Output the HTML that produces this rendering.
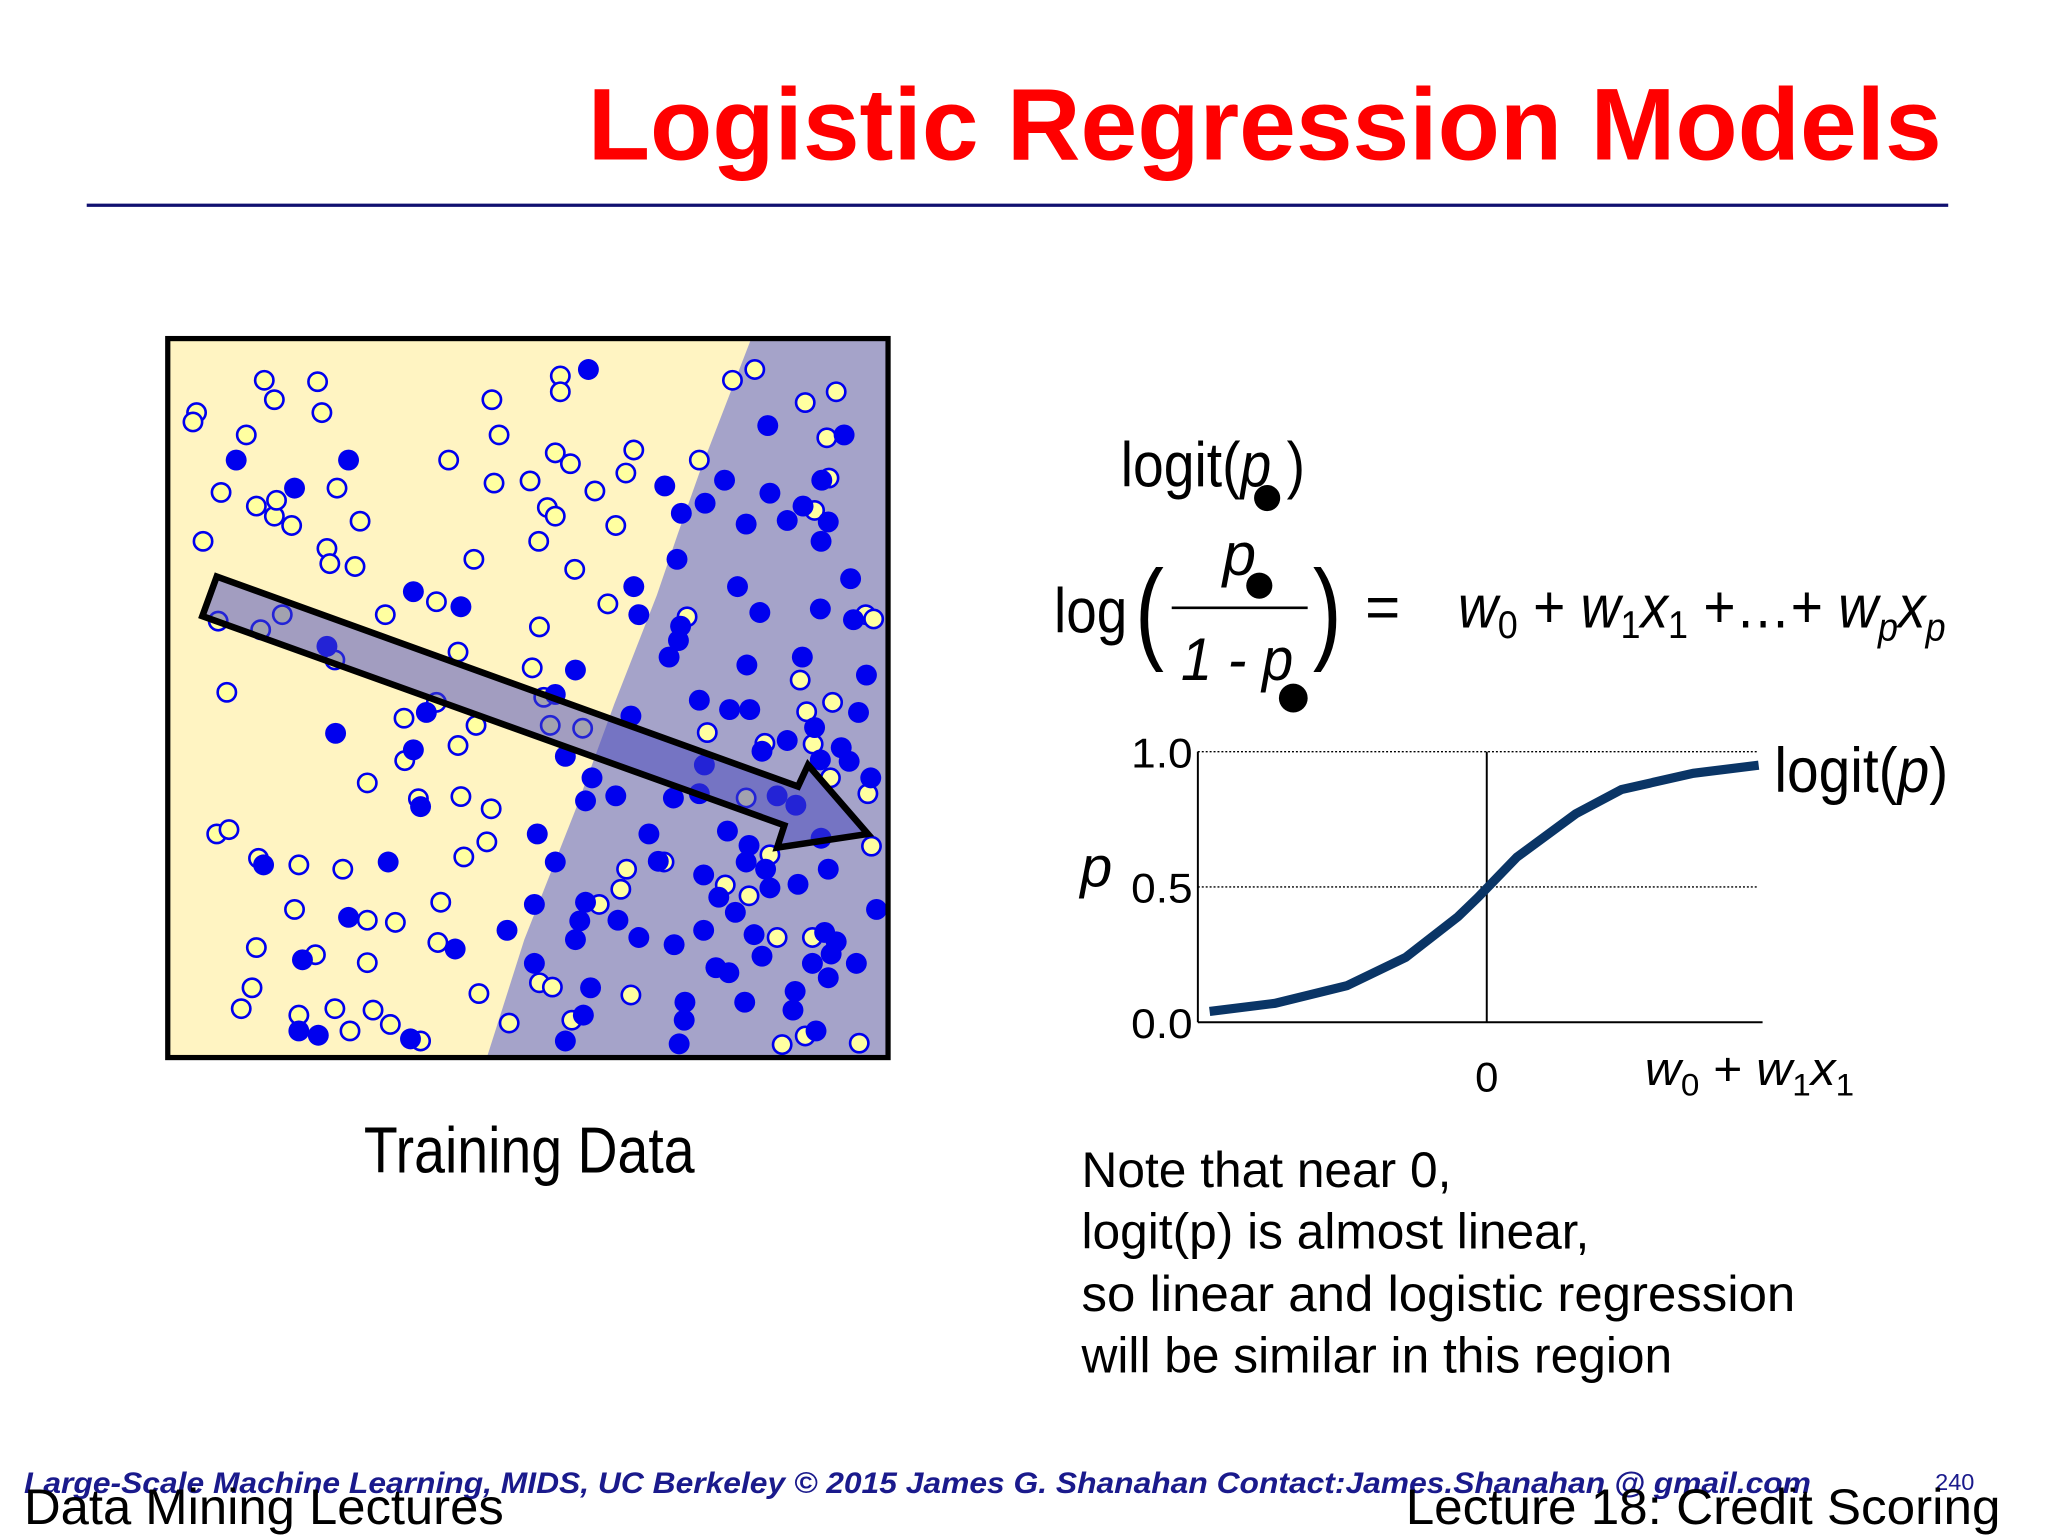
<!DOCTYPE html>
<html><head><meta charset="utf-8"><style>
html,body{margin:0;padding:0;background:#fff;}
svg{display:block;}
text{font-family:"Liberation Sans",sans-serif;}
</style></head><body>
<svg id="s" width="2048" height="1536" viewBox="0 0 1566 1175" xmlns="http://www.w3.org/2000/svg">
<text x="1485" y="122" text-anchor="end" font-size="78" font-weight="bold" fill="#ff0000">Logistic Regression Models</text>
<line x1="66" y1="157" x2="1490" y2="157" stroke="#101070" stroke-width="2.5"/>
<g id="scatter"></g>
<text x="278" y="897" font-size="50" fill="#000" textLength="253" lengthAdjust="spacingAndGlyphs">Training Data</text>
<g>
<text x="857" y="372" font-size="48" fill="#000" textLength="141" lengthAdjust="spacingAndGlyphs">logit(<tspan font-style="italic">p</tspan> )</text>
<text x="806" y="484" font-size="48" fill="#000" textLength="56" lengthAdjust="spacingAndGlyphs">log</text>
<text x="868" y="496" font-size="86" fill="#000" textLength="22" lengthAdjust="spacingAndGlyphs">(</text>
<text x="1004" y="496" font-size="86" fill="#000" textLength="22" lengthAdjust="spacingAndGlyphs">)</text>
<text x="935" y="440" font-size="46" font-style="italic" fill="#000">p</text>
<line x1="896" y1="465" x2="1000" y2="465" stroke="#000" stroke-width="2"/>
<text x="903" y="520" font-size="46" font-style="italic" fill="#000" textLength="86" lengthAdjust="spacingAndGlyphs">1 - p</text>
<circle cx="969" cy="381" r="10" fill="#000"/>
<circle cx="963" cy="448" r="10" fill="#000"/>
<circle cx="989" cy="534" r="11" fill="#000"/>
<text x="1044" y="480" font-size="46" fill="#000">=</text>
<text x="1115" y="480" font-size="46" fill="#000" textLength="373" lengthAdjust="spacingAndGlyphs"><tspan font-style="italic">w</tspan><tspan font-size="30" dy="8">0</tspan><tspan dy="-8"> + </tspan><tspan font-style="italic">w</tspan><tspan font-size="30" dy="8">1</tspan><tspan dy="-8" font-style="italic">x</tspan><tspan font-size="30" dy="8">1</tspan><tspan dy="-8"> +…+ </tspan><tspan font-style="italic">w</tspan><tspan font-size="30" dy="10" font-style="italic">p</tspan><tspan dy="-10" font-style="italic">x</tspan><tspan font-size="30" dy="10" font-style="italic">p</tspan></text>
</g>
<g id="chart"></g>
<g font-size="38" fill="#000">
<text x="827" y="908">Note that near 0,</text>
<text x="827" y="955">logit(p) is almost linear,</text>
<text x="827" y="1003" textLength="546" lengthAdjust="spacingAndGlyphs">so linear and logistic regression</text>
<text x="827" y="1050">will be similar in this region</text>
</g>
<text x="18" y="1142" font-size="22.5" font-weight="bold" font-style="italic" fill="#1a1a8c" textLength="1367" lengthAdjust="spacingAndGlyphs">Large-Scale Machine Learning, MIDS, UC Berkeley ©  2015 James G. Shanahan   Contact:James.Shanahan @ gmail.com</text>
<text x="1480" y="1140" font-size="18" fill="#1a1a8c">240</text>
<text x="18" y="1166" font-size="38" fill="#000" textLength="367" lengthAdjust="spacingAndGlyphs">Data Mining Lectures</text>
<text x="1075" y="1166" font-size="38" fill="#000" textLength="455" lengthAdjust="spacingAndGlyphs">Lecture 18: Credit Scoring</text>
</svg>
<script>
const NS="http://www.w3.org/2000/svg";
const openPts=[[13.4,5.8],[14.8,8.5],[20.8,6],[21.4,10.3],[4,10.3],[3.5,11.6],[10.9,13.4],[7.4,21.4],[12.3,23.3],[14.8,24.7],[15.1,22.5],[17.2,26],[23.5,20.8],[26.7,25.4],[4.9,28.2],[22.1,29.2],[22.5,31.3],[26,31.7],[39,16.9],[45,8.5],[46,13.4],[45.3,20.1],[50.3,19.8],[54.5,5.2],[54.5,7.4],[53.8,15.9],[55.9,17.4],[59.3,21.2],[63.6,18.7],[64.7,15.5],[52.7,23.5],[53.8,24.7],[62.2,26],[51.5,28.2],[42.5,30.7],[56.5,32.1],[61.1,36.9],[73.8,16.9],[78.4,5.8],[81.5,4.3],[88.5,8.9],[92.8,7.4],[91.5,13.8],[91.8,19.4],[89.8,23.9],[37.3,36.6],[30.2,38.4],[7,39.3],[12.9,40.5],[15.9,38.4],[23.2,44.7],[8.2,49.2],[40.3,43.6],[51.6,40.1],[50.6,45.8],[32.8,52.8],[37.3,50.6],[42.8,53.8],[40.3,56.6],[32.9,58.7],[27.7,61.8],[34.8,64],[40.7,63.7],[44.9,65.4],[6.8,68.9],[8.5,68.3],[44.3,70],[41.1,72.1],[12.6,72.3],[18.2,73.2],[24.3,73.8],[17.6,79.4],[27.7,80.9],[31.6,81.2],[37.9,78.4],[37.5,84],[12.3,84.7],[20.5,85.7],[27.7,86.8],[11.7,90.3],[10.2,93.2],[18.2,94.1],[23.2,93.2],[28.5,93.4],[30.9,95.4],[25.3,96.3],[43.2,91.1],[35.1,97.7],[47.4,95.2],[51.6,89.6],[53.4,90.2],[64.3,91.3],[63.7,73.8],[62.9,76.6],[59.9,78.7],[72.1,38.7],[74.9,54.8],[87.8,47.5],[92.3,50.6],[88.7,51.9],[89.6,56.4],[82.9,56.3],[92,61.1],[97.2,63.3],[96.9,38.4],[98,39],[97.7,70.6],[83.6,71.8],[80.7,77.5],[77.4,76],[84.6,83.3],[89.5,83.3],[85.3,98.2],[96,98],[88.5,97],[80.3,63.9],[53.1,53.8],[57.6,54.2],[52.2,49.9],[68.9,72.8],[56.1,94.8]];
const filledPts=[[9.5,16.9],[25.1,16.9],[17.6,20.8],[58.4,4.3],[34.1,35.2],[40.7,37.3],[22.1,42.8],[35.9,52],[23.3,54.9],[34.1,57.2],[35.1,65.1],[13.3,73.2],[30.6,72.8],[25.1,80.5],[18.7,86.4],[39.9,84.9],[18.2,96.3],[20.9,96.9],[33.7,97.4],[56.6,46.1],[53.8,49.5],[55.2,58.1],[58.9,61.1],[58,64.3],[62.2,63.6],[64.7,34.5],[65.4,38.4],[69,20.5],[71.3,24.3],[74.6,22.9],[77.3,19.7],[83.3,12.1],[93.9,13.4],[80.3,25.8],[83.6,21.5],[86,25.3],[88.2,23.3],[90.8,19.7],[91.7,25.5],[90.7,28.2],[70.7,30.7],[79.1,34.5],[94.8,33.4],[82.2,38.1],[90.6,37.6],[95.2,39.1],[71.2,40],[70.9,42],[69.6,44.3],[80.4,45.4],[88.1,44.3],[97,46.8],[73.8,50.3],[78,51.6],[80.8,51.6],[95.9,52],[64.3,52.5],[89.8,54.1],[86,55.9],[82.5,57.4],[93.5,56.9],[90.6,58.6],[94.6,58.8],[97.6,61.1],[74.5,59.3],[73.8,63.3],[70.2,63.9],[84.6,63.6],[87.2,64.9],[66.8,68.9],[77.7,68.5],[90.7,69.5],[80.7,70.5],[80.3,72.8],[91.7,73.8],[74.4,74.6],[83,73.8],[83.6,76.4],[87.5,75.9],[76.5,77.7],[78.8,79.8],[51.3,68.9],[53.8,72.8],[68.1,72.7],[50.9,78.7],[58,78.4],[57.2,81],[62.5,80.9],[47.1,82.3],[56.6,83.6],[65.4,83.3],[70.3,84.3],[74.4,82.3],[81.4,82.9],[91.2,82.6],[92.8,83.9],[92.1,85.6],[95.6,86.9],[89.5,86.9],[82.5,85.9],[76.1,87.5],[77.9,88.2],[91.7,88.9],[98.4,79.4],[50.9,86.9],[58.7,90.3],[71.8,92.3],[71.7,94.8],[80.1,92.3],[87.1,90.8],[86.8,93.4],[90,96.3],[71,98.1],[55.2,97.7],[57.7,94.1]];
const boundary=[[81,0],[73.8,18.7],[70.8,27.2],[67.9,35.7],[62,50.8],[56.7,65.3],[49.5,83.6],[44.3,100]];
const arrowPts=[[6.8,33.1],[87.5,62.3],[88.9,59.3],[97.2,68.9],[84.6,70.8],[85.6,67.7],[4.8,38.6]];
const curveX=[-4.24,-3.24,-2.14,-1.24,-0.44,-0.14,0.46,1.36,2.06,3.16,4.16];
const curveP=[0.04,0.07,0.135,0.24,0.39,0.46,0.61,0.77,0.86,0.92,0.95];
const yTicks=[0,0.5,1];
const yTickLabels=["0.0","0.5","1.0"];

function mk(tag,attrs,parent){const e=document.createElementNS(NS,tag);for(const k in attrs)e.setAttribute(k,attrs[k]);parent.appendChild(e);return e;}
const BX=128,BY=259,BW=551,BH=550;
const sx=v=>BX+v/100*BW, sy=v=>BY+v/100*BH;
const sc=document.getElementById('scatter');
let r=mk('rect',{x:BX,y:BY,width:BW,height:BH,fill:'#fff4c2'},sc);


const bpts=boundary.map(p=>sx(p[0])+','+sy(p[1])).concat([sx(100)+','+sy(100),sx(100)+','+sy(0)]).join(' ');
let bp=mk('polygon',{points:bpts,fill:'#a5a3c9'},sc);


openPts.forEach(p=>{const c=mk('circle',{cx:sx(p[0]),cy:sy(p[1]),r:7,fill:'#ffffa0',stroke:'#0000ee','stroke-width':2},sc);

});
filledPts.forEach(p=>{const c=mk('circle',{cx:sx(p[0]),cy:sy(p[1]),r:8,fill:'#0000ee'},sc);

});
let ar=mk('polygon',{points:arrowPts.map(p=>sx(p[0])+','+sy(p[1])).join(' '),fill:'rgba(70,70,190,0.5)',stroke:'#000','stroke-width':5},sc);


let fr=mk('rect',{x:BX,y:BY,width:BW,height:BH,fill:'none',stroke:'#000','stroke-width':4},sc);


const ch=document.getElementById('chart');
const X0=916,X1=1348,Y0=782,Y1=575;
const cx=v=>1137+v*50, cy=v=>Y0-v*(Y0-Y1);
yTicks.forEach((t,i)=>{
 if(t>0){const g=mk('line',{x1:X0,y1:cy(t),x2:1345,y2:cy(t),stroke:'#000','stroke-width':1,'stroke-dasharray':'1.5,1.5'},ch);
 
 }
 const tl=mk('text',{x:X0-4,y:cy(t)+12,'text-anchor':'end','font-size':32,textLength:47,lengthAdjust:'spacingAndGlyphs'},ch);tl.textContent=yTickLabels[i];
 
 
});
let ya=mk('line',{x1:X0,y1:Y1,x2:X0,y2:Y0,stroke:'#000','stroke-width':1.5},ch);


let xa=mk('line',{x1:X0,y1:Y0,x2:X1,y2:Y0,stroke:'#000','stroke-width':1.5},ch);


let vz=mk('line',{x1:cx(0),y1:Y1,x2:cx(0),y2:Y0,stroke:'#000','stroke-width':1.5},ch);


let cv=mk('polyline',{points:curveX.map((x,i)=>cx(x)+','+cy(curveP[i])).join(' '),fill:'none',stroke:'#0a3566','stroke-width':7},ch);


let yl=mk('text',{x:826,y:678,'font-size':44,'font-style':'italic'},ch);yl.textContent='p';


let z=mk('text',{x:cx(0),y:835,'text-anchor':'middle','font-size':32},ch);z.textContent='0';


let xt=mk('text',{x:1258,y:830,'font-size':36,textLength:160,lengthAdjust:'spacingAndGlyphs'},ch);
xt.innerHTML='<tspan font-style="italic">w</tspan><tspan font-size="24" dy="8">0</tspan><tspan dy="-8"> + </tspan><tspan font-style="italic">w</tspan><tspan font-size="24" dy="8">1</tspan><tspan dy="-8" font-style="italic">x</tspan><tspan font-size="24" dy="8">1</tspan>';


let ll=mk('text',{x:1357,y:606,'font-size':48,textLength:133,lengthAdjust:'spacingAndGlyphs'},ch);
ll.innerHTML='logit(<tspan font-style="italic">p</tspan>)';


</script>
</body></html>
